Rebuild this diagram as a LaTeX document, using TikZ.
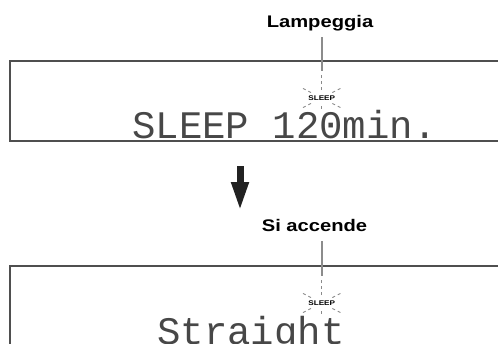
\documentclass[tikz,border=0pt]{standalone}
\usepackage{fontspec}
\setmainfont{Liberation Sans}
\newfontfamily\calloutfont[FakeStretch=1.2]{Liberation Sans}
\newfontfamily\lcdfont{Liberation Mono}
\usetikzlibrary{arrows.meta,positioning,calc}

\definecolor{framegray}{HTML}{4F4F4F}
\definecolor{leadergray}{HTML}{8C8C8C}
\definecolor{raygray}{HTML}{8A8A8A}
\definecolor{arrowblack}{HTML}{222222}

\begin{document}
\begin{tikzpicture}[
      x=1bp, y=1bp,
      display/.style={draw=framegray, line width=2bp},
      callout/.style={anchor=base, inner sep=0pt, text depth=3.5bp, font=\calloutfont\bfseries\fontsize{16.8bp}{18bp}\selectfont},
      tag/.style={inner sep=0.5bp, font=\calloutfont\bfseries\fontsize{6.8bp}{7.5bp}\selectfont},
      lcd/.style={anchor=base west, inner sep=0pt, text=black!72, font=\lcdfont\fontsize{39bp}{40bp}\selectfont},
      leader/.style={draw=leadergray, line width=2bp},
      ray/.style={draw=raygray, line width=0.9bp, dash pattern=on 3bp off 3bp},
      bigarrow/.style={draw=arrowblack, line width=7bp, -{Triangle[length=29bp, width=16bp]}}
  ]
      \useasboundingbox (0,0) rectangle (498,343);

      % TOP DISPLAY
      \draw[display] (506,282.3) -- (9.5,282.3) -- (9.5,202.3) -- (506,202.3);
      \node[lcd] (lcdtop) at (132,204.5) {SLEEP 120min.};
      \node[tag] (blinka) at (321.7,245) {SLEEP};
      \node[callout] (lamp) at (320,315.3) {Lampeggia};
      \coordinate (tipa) at (321.7,272);
      \draw[leader, shorten <=6bp] (lamp.south -| tipa) -- (tipa);
      \foreach \a/\ri/\ro in {90/8/26, 270/8/14, 27/12/24, 153/12/24, 207/12/24, 333/12/24}
        \draw[ray] ([shift={(\a:\ri)}]blinka.center) -- ([shift={(\a:\ro)}]blinka.center);

      % ARROW
      \coordinate (arrtop) at (240,177);
      \coordinate (arrtip) at (240,132);
      \draw[bigarrow] (arrtop) -- (arrtip);

      % BOTTOM DISPLAY
      \draw[display] (506,77) -- (9.5,77) -- (9.5,-10);
      \node[lcd] (lcdbot) at (157,-1) {Straight};
      \node[tag] (blinkb) at (321.7,40) {SLEEP};
      \node[callout] (acc) at (314.5,111.3) {Si accende};
      \coordinate (tipb) at (321.7,67);
      \draw[leader, shorten <=6bp] (acc.south -| tipb) -- (tipb);
      \foreach \a/\ri/\ro in {90/8/26, 270/8/14, 27/12/24, 153/12/24, 207/12/24, 333/12/24}
        \draw[ray] ([shift={(\a:\ri)}]blinkb.center) -- ([shift={(\a:\ro)}]blinkb.center);
  \end{tikzpicture}
\end{document}
